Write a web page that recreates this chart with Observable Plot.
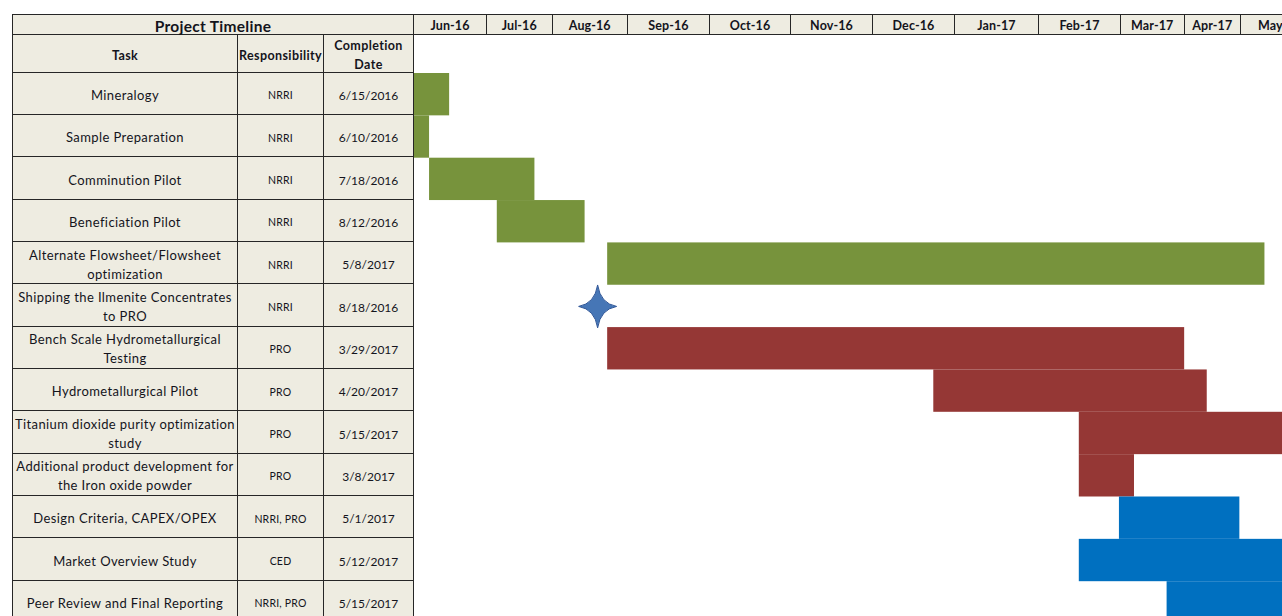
<!DOCTYPE html>
<html>
<head>
<meta charset="utf-8">
<script src="https://cdn.jsdelivr.net/npm/d3@7"></script>
<script src="https://cdn.jsdelivr.net/npm/@observablehq/plot@0.6"></script>
<style>
  html, body { margin: 0; padding: 0; background: #fff; }
  #wrap { position: relative; width: 1282px; height: 616px; overflow: hidden; font-family: Lato, "Open Sans", sans-serif; color: #14141c; }
  #grid { position: absolute; left: 12px; top: 13.5px; display: grid; }
  .c { box-sizing: border-box; background: #EEECE1; border-right: 1.5px solid #262626; border-bottom: 1.5px solid #262626;
       display: flex; align-items: center; justify-content: center; text-align: center; padding: 4px 1px 0 1px; overflow: visible; }
  .top { border-top: 1.5px solid #262626; padding-top: 3px; }
  .left { border-left: 1.5px solid #262626; }
  .title { font-weight: 700; font-size: 15.5px; letter-spacing: 0.3px; }
  .month { font-weight: 700; font-size: 12.5px; white-space: nowrap; letter-spacing: 0.1px; }
  .hdr { font-weight: 700; font-size: 12.5px; line-height: 19px; letter-spacing: 0.4px; }
  .task { font-size: 13px; line-height: 19px; letter-spacing: 0.4px; }
  .resp { font-size: 10.5px; letter-spacing: 0.2px; }
  .date { font-size: 12px; }
  #gantt { position: absolute; left: 414px; top: 72.7px; width: 868px; }
  #gantt svg { max-width: none; }
</style>
</head>
<body>
<div id="wrap">
  <div id="grid"></div>
  <div id="gantt"></div>
</div>
<script>
// ---- data ----
const title = "Project Timeline";
const headers = ["Task", "Responsibility", "Completion Date"];
const months = ["Jun-16","Jul-16","Aug-16","Sep-16","Oct-16","Nov-16","Dec-16","Jan-17","Feb-17","Mar-17","Apr-17","May-17"];
const tasks = [
  "Mineralogy",
  "Sample Preparation",
  "Comminution Pilot",
  "Beneficiation Pilot",
  "Alternate Flowsheet/Flowsheet optimization",
  "Shipping the Ilmenite Concentrates to PRO",
  "Bench Scale Hydrometallurgical Testing",
  "Hydrometallurgical Pilot",
  "Titanium dioxide purity optimization study",
  "Additional product development for the Iron oxide powder",
  "Design Criteria, CAPEX/OPEX",
  "Market Overview Study",
  "Peer Review and Final Reporting"
];
const responsibility = ["NRRI","NRRI","NRRI","NRRI","NRRI","NRRI","PRO","PRO","PRO","PRO","NRRI, PRO","CED","NRRI, PRO"];
const completion = ["6/15/2016","6/10/2016","7/18/2016","8/12/2016","5/8/2017","8/18/2016","3/29/2017","4/20/2017","5/15/2017","3/8/2017","5/1/2017","5/12/2017","5/15/2017"];
const phase = ["Beneficiation","Beneficiation","Beneficiation","Beneficiation","Beneficiation","Beneficiation",
               "Hydrometallurgy","Hydrometallurgy","Hydrometallurgy","Hydrometallurgy","Evaluation","Evaluation","Evaluation"];
// bar start / end (null = milestone only)
const barStart = ["2016-06-03","2016-06-03","2016-06-09","2016-07-06","2016-08-19",null,"2016-08-19","2016-12-27","2017-02-23","2017-02-23","2017-03-11","2017-02-23","2017-03-30"];
const barEnd   = ["2016-06-17","2016-06-09","2016-07-21","2016-08-10","2017-05-08",null,"2017-04-06","2017-04-15","2017-05-15","2017-03-17","2017-04-28","2017-05-15","2017-05-15"];
const milestoneTask = ["Shipping the Ilmenite Concentrates to PRO"];
const milestoneDate = ["2016-08-15"];
const timeDomain = ["2016-06-03","2017-05-15"];

// ---- spreadsheet table (layout) ----
const colW = [226, 86, 90, 73, 65.5, 75.5, 82, 81, 82, 82, 84, 82, 63.5, 56.5, 79];
const rowH = 42.35;
const grid = document.getElementById("grid");
grid.style.gridTemplateColumns = colW.map(w => w + "px").join(" ");
grid.style.gridTemplateRows = ["21.5px", "37.7px", ...tasks.map(() => rowH + "px")].join(" ");

function cell(text, cls, col, row, span = 1) {
  const d = document.createElement("div");
  d.className = "c " + cls + (row === 1 ? " top" : "") + (col === 1 ? " left" : "");
  d.style.gridColumn = `${col} / span ${span}`;
  d.style.gridRow = `${row}`;
  d.textContent = text;
  grid.appendChild(d);
}
cell(title, "title", 1, 1, 3);
months.forEach((m, i) => cell(m, "month", 4 + i, 1));
headers.forEach((h, i) => cell(h, "hdr", 1 + i, 2));
tasks.forEach((t, i) => {
  cell(t, "task", 1, 3 + i);
  cell(responsibility[i], "resp", 2, 3 + i);
  cell(completion[i], "date", 3, 3 + i);
});

// ---- Gantt with Plot ----
const rows = tasks.map((t, i) => ({task: t, phase: phase[i], start: barStart[i] && new Date(barStart[i]), end: barEnd[i] && new Date(barEnd[i])}))
  .filter(d => d.start);
const milestones = milestoneTask.map((t, i) => ({task: t, date: new Date(milestoneDate[i])}));

const star4 = {
  draw(context, size) {
    const r = Math.sqrt(size / Math.PI);
    const rx = r, ry = r * 1.13, k = r * 0.15;
    context.moveTo(0, -ry);
    context.quadraticCurveTo(k, -k, rx, 0);
    context.quadraticCurveTo(k, k, 0, ry);
    context.quadraticCurveTo(-k, k, -rx, 0);
    context.quadraticCurveTo(-k, -k, 0, -ry);
    context.closePath();
  }
};

const chart = Plot.plot({
  width: 868,
  height: 13 * rowH,
  margin: 0,
  x: {type: "utc", domain: timeDomain.map(d => new Date(d)), axis: null},
  y: {domain: tasks, padding: 0, round: false, axis: null},
  color: {domain: ["Beneficiation", "Hydrometallurgy", "Evaluation"], range: ["#77933C", "#953735", "#0070C0"]},
  marks: [
    Plot.barX(rows, {x1: "start", x2: "end", y: "task", fill: "phase", clip: true}),
    Plot.dot(milestones, {x: "date", y: "task", symbol: star4, r: 19, fill: "#4676B6", stroke: "#2F5597", strokeWidth: 1})
  ]
});
document.getElementById("gantt").appendChild(chart);
</script>
</body>
</html>
